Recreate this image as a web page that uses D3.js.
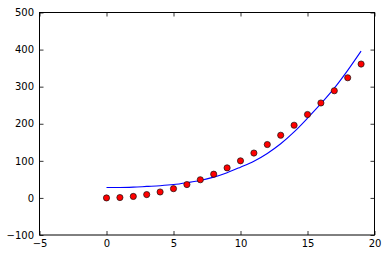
<!DOCTYPE html>
<html>
<head>
<meta charset="utf-8">
<script src="https://cdn.jsdelivr.net/npm/d3@7"></script>
<style>
  body { margin: 0; background: #fff; }
  svg { display: block; }
  .tick text { font-family: "DejaVu Sans", sans-serif; font-size: 10px; fill: #000; }
</style>
</head>
<body>
<div id="chart"></div>
<script>
// samples (red dots)
const xs = [0, 1, 2, 3, 4, 5, 6, 7, 8, 9, 10, 11, 12, 13, 14, 15, 16, 17, 18, 19];
const ys = [0, 1, 4, 9, 16, 25, 36, 49, 64, 81, 100, 121, 144, 169, 196, 225, 256, 289, 324, 361];
// fitted curve (blue line) at the same x
const fit = [28, 28, 29, 31, 33, 36, 41, 47, 56, 68, 83, 99, 120, 146, 178, 215, 254, 296, 344, 396];

const xTicks = [-5, 0, 5, 10, 15, 20];
const yTicks = [-100, 0, 100, 200, 300, 400, 500];

const width = 387;
const height = 256;
const margin = { top: 12.5, right: 12.5, bottom: 21, left: 39.5 };

const svg = d3.select('#chart')
  .append('svg')
  .attr('width', width)
  .attr('height', height);

const x = d3.scaleLinear()
  .domain([-5, 20])
  .range([margin.left, width - margin.right]);

const y = d3.scaleLinear()
  .domain([-100, 500])
  .range([height - margin.bottom, margin.top]);

// line
const line = d3.line()
  .x((d, i) => x(xs[i]))
  .y(d => y(d))
  .curve(d3.curveMonotoneX);

svg.append('path')
  .datum(fit)
  .attr('fill', 'none')
  .attr('stroke', '#0000ff')
  .attr('stroke-width', 1.1)
  .attr('d', line);

// dots
svg.append('g')
  .selectAll('circle')
  .data(ys)
  .join('circle')
    .attr('cx', (d, i) => x(xs[i]))
    .attr('cy', d => y(d))
    .attr('r', 3.1)
    .attr('fill', '#ff0000')
    .attr('stroke', '#111')
    .attr('stroke-width', 0.7);

// axes, ticks pointing inward on all four sides
function styleAxis(g) {
  g.select('.domain').remove();
  g.selectAll('.tick line').attr('stroke', '#000').attr('stroke-width', 0.8);
}

svg.append('g')
  .attr('transform', `translate(0,${height - margin.bottom})`)
  .call(d3.axisBottom(x).tickValues(xTicks).tickSize(-4).tickPadding(5))
  .call(styleAxis);

svg.append('g')
  .attr('transform', `translate(0,${margin.top})`)
  .call(d3.axisTop(x).tickValues(xTicks).tickSize(-4).tickFormat(''))
  .call(styleAxis);

svg.append('g')
  .attr('transform', `translate(${margin.left},0)`)
  .call(d3.axisLeft(y).tickValues(yTicks).tickSize(-4).tickPadding(5.5))
  .call(styleAxis);

svg.append('g')
  .attr('transform', `translate(${width - margin.right},0)`)
  .call(d3.axisRight(y).tickValues(yTicks).tickSize(-4).tickFormat(''))
  .call(styleAxis);

// frame
svg.append('rect')
  .attr('x', margin.left)
  .attr('y', margin.top)
  .attr('width', width - margin.left - margin.right)
  .attr('height', height - margin.top - margin.bottom)
  .attr('fill', 'none')
  .attr('stroke', '#000')
  .attr('stroke-width', 1);
</script>
</body>
</html>
